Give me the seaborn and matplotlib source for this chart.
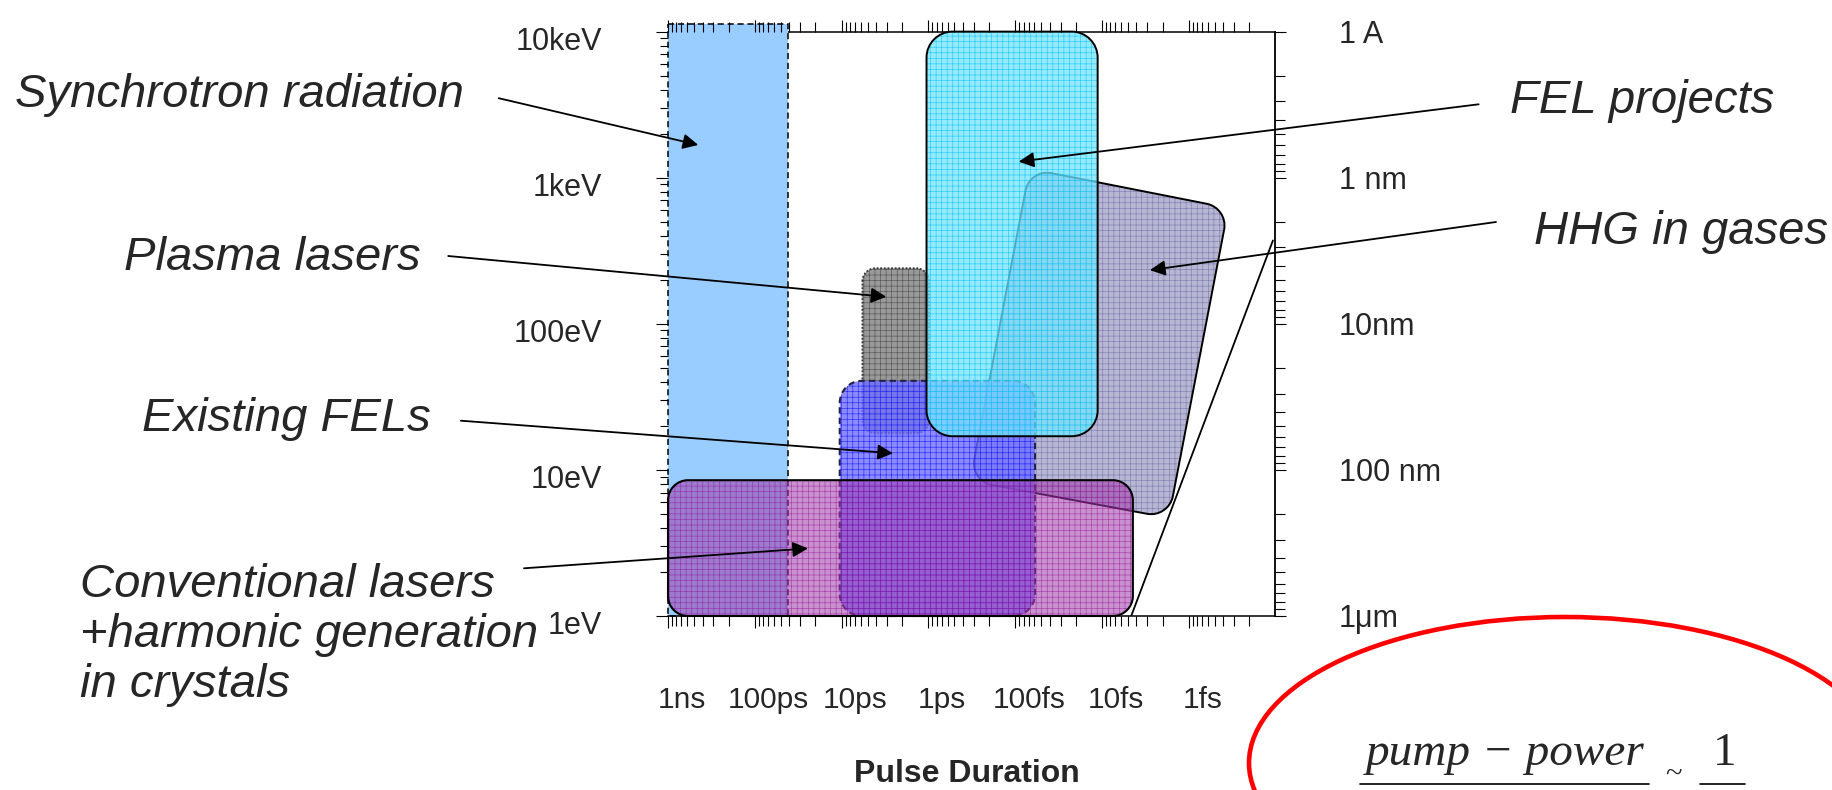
import numpy as np
import pandas as pd
import seaborn as sns
import matplotlib
matplotlib.use("Agg")
import matplotlib.pyplot as plt
from matplotlib.path import Path
from matplotlib.patches import PathPatch, Ellipse
from matplotlib.transforms import IdentityTransform, ScaledTranslation
from matplotlib.lines import Line2D
from matplotlib.ticker import LogLocator, NullFormatter

# ---------------- data ----------------
time_ticks = [1e-9, 1e-10, 1e-11, 1e-12, 1e-13, 1e-14, 1e-15]
time_labels = ["1ns", "100ps", "10ps", "1ps", "100fs", "10fs", "1fs"]
energy_ticks = [1e4, 1e3, 1e2, 1e1, 1]
energy_labels = ["10keV", "1keV", "100eV", "10eV", "1eV"]
wavelength_ticks = [0.1, 1, 10, 100, 1000]
wavelength_labels = ["1 A", "1 nm", "10nm", "100 nm", "1\u03bcm"]

# rectangular source regions (pulse duration in s, photon energy in eV)
rect_names = ["Synchrotron radiation", "Plasma lasers", "Existing FELs",
              "FEL projects", "Conventional lasers"]
rect_t_long = [1e-9, 5.75e-12, 1.05e-11, 1.05e-12, 1e-9]
rect_t_short = [4.1e-11, 9.8e-13, 5.9e-14, 1.12e-14, 4.4e-15]
rect_e_low = [1, 17.8, 1, 17, 1]
rect_e_high = [1.12e4, 240, 40.7, 1e4, 8.5]

# HHG region (tilted)
hhg_t = [6.8e-14, 3.5e-16, 1.7e-15, 3.3e-13]
hhg_e = [1150, 620, 4.7, 8.4]

# limit line
limit_t = [4.6e-15, 1.07e-16]
limit_e = [1, 372]

# arrow tips
arrow_names = ["Synchrotron radiation", "Plasma lasers", "Existing FELs",
               "FEL projects", "Conventional lasers", "HHG in gases"]
arrow_t = [4.48e-10, 3.05e-12, 2.56e-12, 9.1e-14, 2.44e-11, 2.8e-15]
arrow_e = [1675, 153, 13, 1288, 2.9, 233]

# ---------------- styles / layout ----------------
W, H, DPI = 1833, 790, 100
styles = {
    "Synchrotron radiation": dict(face=(153/255, 204/255, 1.0), alpha=1.0, hatch=None,
                                  hc=None, ls=(0, (4, 2.5)), lw=1.1, ec="black", r=0, z=2),
    "HHG in gases": dict(face=(165/255, 165/255, 200/255), alpha=0.8, hatch="+++",
                         hc=(115/255, 115/255, 170/255), ls="-", lw=1.4, ec="black", r=22, z=3),
    "Plasma lasers": dict(face=(135/255, 135/255, 135/255), alpha=0.85, hatch="+++",
                          hc=(75/255, 75/255, 75/255), ls=(0, (1, 1)), lw=1.3, ec="#333333", r=13, z=4),
    "Existing FELs": dict(face=(110/255, 110/255, 1.0), alpha=0.8, hatch="+++",
                          hc=(20/255, 20/255, 1.0), ls=(0, (3, 2)), lw=1.5, ec="#222244", r=22, z=5),
    "FEL projects": dict(face=(115/255, 228/255, 1.0), alpha=0.75, hatch="+++",
                         hc=(0, 195/255, 240/255), ls="-", lw=1.4, ec="black", r=26, z=6),
    "Conventional lasers": dict(face=(160/255, 60/255, 170/255), alpha=0.56, hatch="+++",
                                hc=(140/255, 0, 140/255), ls="-", lw=1.5, ec="black", r=20, z=7),
}

sns.set_style("ticks")
plt.rcParams["font.family"] = ["Liberation Sans", "DejaVu Sans"]
plt.rcParams["hatch.linewidth"] = 0.45

fig = plt.figure(figsize=(W / DPI, H / DPI), dpi=DPI)
ax_left, ax_right, ax_top, ax_bot = 668, 1275.5, 31.6, 616
ax = fig.add_axes([ax_left / W, 1 - ax_bot / H, (ax_right - ax_left) / W, (ax_bot - ax_top) / H])
ax.set_xscale("log")
ax.set_yscale("log")
ax.set_xlim(1e-9, 1e-16)
ax.set_ylim(1, 1e4)
ax.set_facecolor("white")


def rounded_path(pts, r):
    pts = np.asarray(pts, float)
    n = len(pts)
    verts, codes = [], []
    k = 0.552
    for i in range(n):
        p0, p1, p2 = pts[i - 1], pts[i], pts[(i + 1) % n]
        d0 = p0 - p1
        l0 = np.hypot(*d0)
        d2 = p2 - p1
        l2 = np.hypot(*d2)
        rr = min(r, 0.5 * l0, 0.5 * l2)
        a = p1 + d0 / l0 * rr
        b = p1 + d2 / l2 * rr
        verts.append(a)
        codes.append(Path.MOVETO if i == 0 else Path.LINETO)
        if rr > 0:
            verts += [a + (p1 - a) * k, b + (p1 - b) * k, b]
            codes += [Path.CURVE4, Path.CURVE4, Path.CURVE4]
    verts.append(verts[0])
    codes.append(Path.CLOSEPOLY)
    return Path(np.array(verts), codes)


def draw_region(name, t_vals, e_vals):
    st = styles[name]
    disp = ax.transData.transform(np.column_stack([t_vals, e_vals]))
    path = rounded_path(disp, st["r"])
    fill = PathPatch(path, facecolor=st["face"], alpha=st["alpha"], lw=0,
                     transform=IdentityTransform(), zorder=st["z"], clip_on=False)
    if st["hatch"]:
        fill.set_hatch(st["hatch"])
        fill.set_edgecolor(st["hc"])
        fill.set_linewidth(0)
    ax.add_patch(fill)
    border = PathPatch(path, facecolor="none", edgecolor=st["ec"], lw=st["lw"],
                       linestyle=st["ls"], transform=IdentityTransform(),
                       zorder=st["z"] + 0.1, clip_on=False)
    ax.add_patch(border)


rects = pd.DataFrame({"name": rect_names, "t0": rect_t_long, "t1": rect_t_short,
                      "e0": rect_e_low, "e1": rect_e_high})
for _, row in rects.iterrows():
    draw_region(row["name"], [row.t0, row.t1, row.t1, row.t0],
                [row.e1, row.e1, row.e0, row.e0])
draw_region("HHG in gases", hhg_t, hhg_e)

# limit line
sns.lineplot(x=limit_t, y=limit_e, ax=ax, color="black", lw=1.3, zorder=8,
             estimator=None, sort=False)

# ---------------- axes styling ----------------
ax.spines["left"].set_visible(False)
ax.spines["right"].set_visible(False)
ax.spines["top"].set_zorder(1)
ax.spines["bottom"].set_zorder(12)
for s in ["top", "bottom"]:
    ax.spines[s].set_linewidth(1.1)
    ax.spines[s].set_color("black")

ax.set_xticks(time_ticks)
ax.set_xticklabels(time_labels)
ax.xaxis.set_minor_locator(LogLocator(base=10, subs=np.arange(2, 10), numticks=50))
ax.xaxis.set_minor_formatter(NullFormatter())
ax.set_yticks(energy_ticks)
ax.set_yticklabels(energy_labels)
ax.yaxis.set_minor_locator(LogLocator(base=10, subs=np.arange(2, 10), numticks=50))
ax.yaxis.set_minor_formatter(NullFormatter())
ax.tick_params(axis="x", which="both", direction="out", top=True, bottom=True,
               labeltop=False, color="black", width=0.8)
ax.tick_params(axis="x", which="major", length=8.6, pad=42, labelsize=21.5)
ax.tick_params(axis="x", which="minor", length=7)
ax.tick_params(axis="y", which="both", direction="out", left=True, right=False,
               color="black", width=0.8)
ax.tick_params(axis="y", which="major", length=8.6, pad=39, labelsize=22)
ax.tick_params(axis="y", which="minor", length=6)
ax.xaxis.set_zorder(20)
ax.yaxis.set_zorder(20)

ax2 = ax.twinx()
ax2.set_yscale("log")
ax2.set_ylim(1000, 0.1)
ax2.set_yticks(wavelength_ticks)
ax2.set_yticklabels(wavelength_labels)
ax2.yaxis.set_minor_locator(LogLocator(base=10, subs=np.arange(2, 10), numticks=50))
ax2.yaxis.set_minor_formatter(NullFormatter())
for s in ["left", "top", "bottom"]:
    ax2.spines[s].set_visible(False)
ax2.spines["right"].set_linewidth(1.3)
ax2.spines["right"].set_color("black")
ax2.tick_params(axis="y", which="both", direction="out", right=True, left=False,
                color="black", width=0.8)
ax2.tick_params(axis="y", which="major", length=8, pad=37.5, labelsize=22)
ax2.tick_params(axis="y", which="minor", length=7)

# label offsets (as in the original slide)
for tk in ax.xaxis.get_major_ticks():
    tk.label1.set_transform(tk.label1.get_transform() +
                            ScaledTranslation(0.14, 0, fig.dpi_scale_trans))
for tk in ax.yaxis.get_major_ticks():
    tk.label1.set_transform(tk.label1.get_transform() +
                            ScaledTranslation(0, -0.07, fig.dpi_scale_trans))

# ---------------- annotations ----------------
label_fs = 34
label_pos = {  # left x, baseline y (pixels from top)
    "Synchrotron radiation": (14.7, 107),
    "Plasma lasers": (124, 269.5),
    "Existing FELs": (142, 430.7),
    "Conventional lasers": (80, 597),
    "FEL projects": (1510, 113),
    "HHG in gases": (1534, 244),
}
label_text = {
    "Synchrotron radiation": "Synchrotron radiation",
    "Plasma lasers": "Plasma lasers",
    "Existing FELs": "Existing FELs",
    "Conventional lasers": "Conventional lasers\n+harmonic generation\nin crystals",
    "FEL projects": "FEL projects",
    "HHG in gases": "HHG in gases",
}
arrow_tail = {  # pixels from top-left
    "Synchrotron radiation": (498.7, 98.2),
    "Plasma lasers": (448.2, 256),
    "Existing FELs": (460.9, 420.7),
    "FEL projects": (1478.6, 104.3),
    "Conventional lasers": (524, 568.3),
    "HHG in gases": (1496, 222),
}
for name, tt, ee in zip(arrow_names, arrow_t, arrow_e):
    x0, y0 = label_pos[name]
    txt = label_text[name]
    if "\n" in txt:
        fig.text(x0 / W, 1 - (y0 - 34) / H, txt, fontsize=label_fs, style="italic",
                 ha="left", va="top", linespacing=1.17)
    else:
        fig.text(x0 / W, 1 - y0 / H, txt, fontsize=label_fs, style="italic",
                 ha="left", va="baseline")
    xt, yt = arrow_tail[name]
    ax.annotate("", xy=(tt, ee), xycoords="data",
                xytext=(xt, H - yt), textcoords="figure pixels",
                arrowprops=dict(arrowstyle="-|>", mutation_scale=23, lw=1.3,
                                color="black", shrinkA=0, shrinkB=0),
                annotation_clip=False, zorder=15)

fig.text(967 / W, 1 - 782 / H, "Pulse Duration", fontsize=23, fontweight="bold",
         ha="center", va="baseline")

# red ellipse with formula
fig.add_artist(Ellipse((1565 / W, 1 - 763 / H), width=632 / W, height=292 / H,
                       transform=fig.transFigure, fill=False, edgecolor="#ff0000", lw=3.3))
serif = ["Liberation Serif", "DejaVu Serif"]
fig.text(1366 / W, 1 - 765 / H, "pump \u2212 power", fontsize=34, family=serif,
         style="italic", ha="left", va="baseline")
fig.text(1713 / W, 1 - 765 / H, "1", fontsize=34, family=serif, ha="left", va="baseline")
fig.text(1673 / W, 1 - 782 / H, "~", fontsize=22, family=serif, ha="center", va="baseline")
fig.add_artist(Line2D([1360 / W, 1649 / W], [1 - 784 / H, 1 - 784 / H], color="black", lw=1.2))
fig.add_artist(Line2D([1700 / W, 1745 / W], [1 - 784 / H, 1 - 784 / H], color="black", lw=1.2))

fig.savefig("out.png", dpi=DPI)
